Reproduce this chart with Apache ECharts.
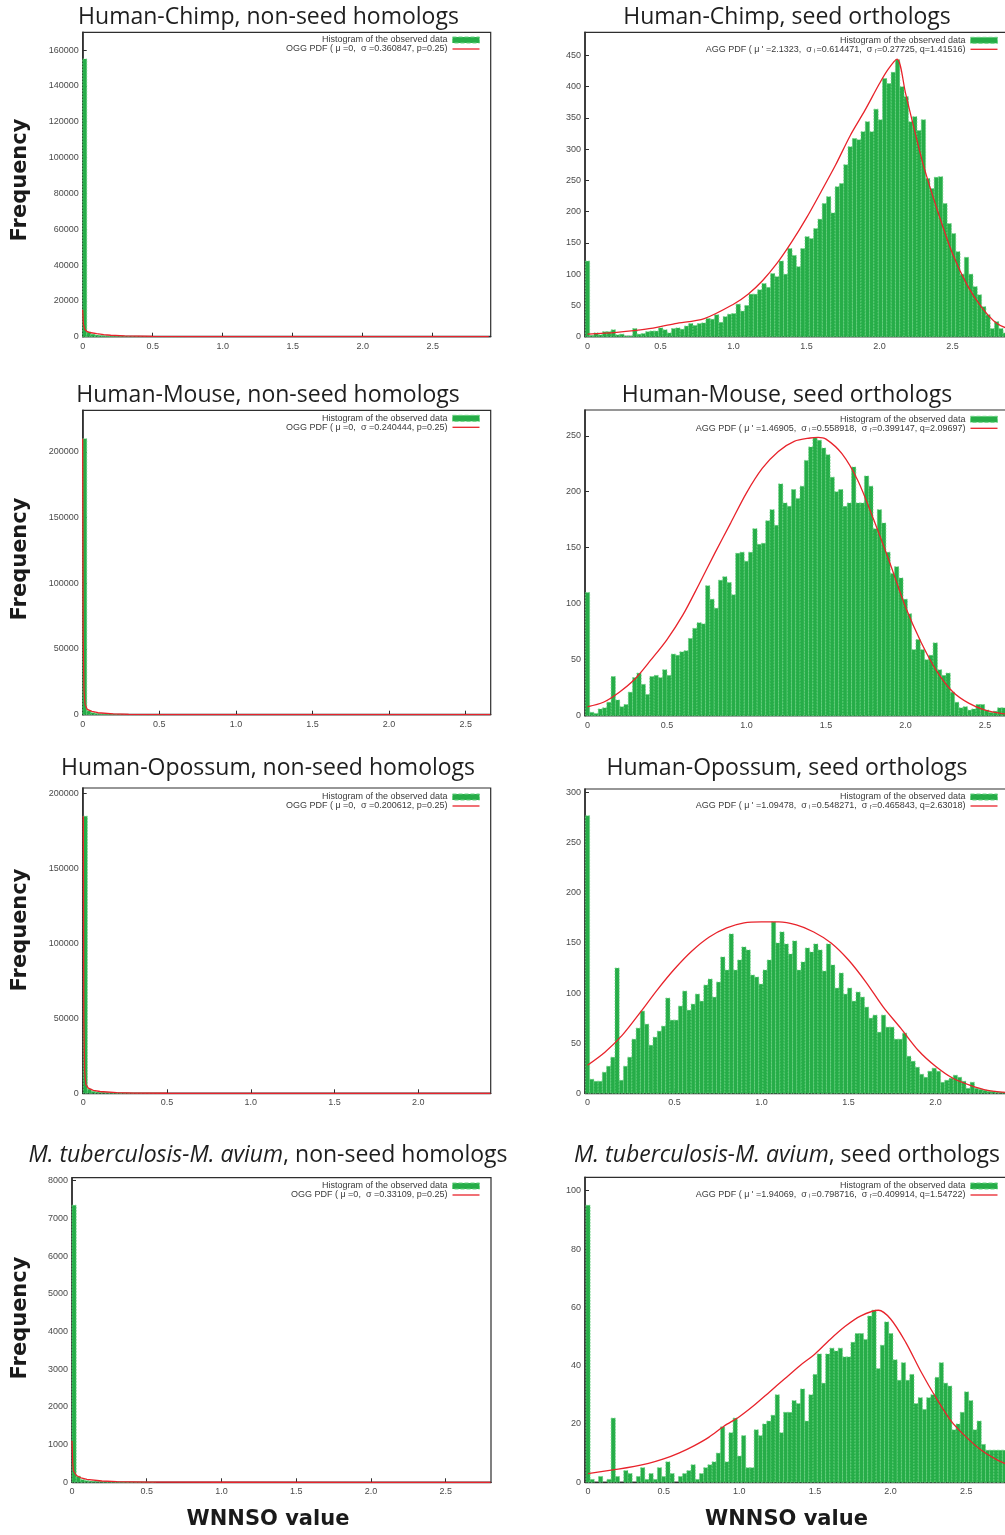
<!DOCTYPE html>
<html>
<head>
<meta charset="utf-8">
<script src="https://cdn.jsdelivr.net/npm/echarts@6/dist/echarts.min.js"></script>
<style>html,body{margin:0;padding:0;background:#fff}#c{width:1005px;height:1535px}</style>
</head>
<body>
<div id="c"></div>
<script>
// ================= DATA =================
const panelTitles = [
  'Human-Chimp, non-seed homologs', 'Human-Chimp, seed orthologs',
  'Human-Mouse, non-seed homologs', 'Human-Mouse, seed orthologs',
  'Human-Opossum, non-seed homologs', 'Human-Opossum, seed orthologs',
  '{i|M. tuberculosis-M. avium}, non-seed homologs', '{i|M. tuberculosis-M. avium}, seed orthologs'
];
const histName = 'Histogram of the observed data';
const pdfNames = [
  'OGG PDF ( μ =0,  σ =0.360847, p=0.25)',
  "AGG PDF ( μ ' =2.1323,  σ ₗ=0.614471,  σ ᵣ=0.27725, q=1.41516)",
  'OGG PDF ( μ =0,  σ =0.240444, p=0.25)',
  "AGG PDF ( μ ' =1.46905,  σ ₗ=0.558918,  σ ᵣ=0.399147, q=2.09697)",
  'OGG PDF ( μ =0,  σ =0.200612, p=0.25)',
  "AGG PDF ( μ ' =1.09478,  σ ₗ=0.548271,  σ ᵣ=0.465843, q=2.63018)",
  'OGG PDF ( μ =0,  σ =0.33109, p=0.25)',
  "AGG PDF ( μ ' =1.94069,  σ ₗ=0.798716,  σ ᵣ=0.409914, q=1.54722)"
];

// histogram bin widths (WNNSO units)
const binWidths = [0.0291, 0.0295, 0.0266, 0.027, 0.0243, 0.0243, 0.028, 0.0278];

// --- non-seed histograms (bins start at 0) ---
const chimpNonSeedCounts = [155000,2600,1400,900,650,500,400,330,280,240,200,170,150,130,110,100,90,80,70,60,50,45,40,35,30];
const mouseNonSeedCounts = [210000,3000,1500,900,600,450,350,280,220,180,150,120,100,80,70,60,50,40,30,25];
const opossumNonSeedCounts = [185000,2800,1300,800,550,400,300,240,190,150,120,100,80,65,50,40,30,25,20,15];
const tbNonSeedCounts = [7350,160,70,45,30,25,20,15,12,10,8,7,6,5,4,4,3,3,2,2];

// --- seed histograms (bins centred on multiples of the bin width) ---
const chimpSeedCounts = [121,2,6,3,8,8,11,3,4,1,
  1,13,4,5,8,9,9,14,11,6,
  13,14,12,17,21,18,21,22,29,28,
  35,23,32,36,37,52,41,50,68,68,
  75,85,79,101,96,121,100,141,130,112,
  141,160,157,173,188,213,224,198,240,245,
  275,304,317,315,328,344,328,364,347,413,
  405,423,443,400,384,344,352,330,347,253,
  237,255,256,213,181,165,136,100,127,100,
  80,67,48,35,13,24,13,6,8];
const mouseSeedCounts = [110,3,2,6,7,12,35,14,8,10,
  21,34,38,28,19,35,36,34,41,36,
  55,54,57,58,69,78,83,82,116,104,
  96,121,124,119,108,145,146,138,146,167,
  153,154,174,184,170,207,190,187,202,194,
  205,228,240,248,246,239,233,213,200,202,
  187,190,222,190,190,214,205,167,184,172,
  146,127,133,123,104,91,59,68,59,50,
  54,65,41,36,38,21,12,7,8,5,
  6,10,10,5,3,4,7,7];
const opossumSeedCounts = [277,14,12,12,21,27,36,125,13,27,
  36,54,65,82,69,48,56,62,67,95,
  73,73,87,102,83,89,99,92,108,114,
  96,111,136,123,159,123,133,146,143,118,
  116,109,123,133,171,150,161,149,139,152,
  123,131,145,141,149,143,122,149,128,105,
  120,99,105,92,101,96,86,75,78,61,
  78,66,66,54,54,60,37,32,26,19,
  16,22,25,22,11,13,15,18,16,12,
  5,11,5,4,3,2,2,1,1,1];
const tbSeedCounts = [95,1,0,2,0,1,22,2,0,4,
  3,0,2,5,1,3,1,5,2,7,
  3,0,2,3,4,6,1,3,5,6,
  7,10,19,7,17,22,9,16,5,5,
  18,16,20,21,23,30,17,24,24,28,
  27,32,21,30,37,44,34,44,46,45,
  46,43,43,48,51,51,49,57,59,39,
  47,55,51,42,35,41,35,37,27,29,
  25,29,30,36,41,34,33,18,20,24,
  31,28,18,21,13,11,11,11,11,11];

// --- fitted PDF curves ---
const chimpNonSeedPdfX = [0,0.005,0.015,0.033,0.06,0.1,0.15,0.2,0.3,0.5,0.8,1.2,2.0,2.9];
const chimpNonSeedPdfY = [15000,7000,4000,2800,2200,1700,1200,800,450,150,40,10,2,0];
const chimpSeedPdfX = [0,0.2,0.4,0.6,0.8,1.0,1.1,1.2,1.3,1.4,1.5,1.6,1.7,1.8,1.9,2.0,2.06,2.12,2.18,2.24,2.3,2.4,2.5,2.6,2.7,2.8,2.9];
const chimpSeedPdfY = [4,7,12,21,29,52,68,90,118,152,190,232,275,322,362,405,428,444,388,330,275,200,133,83,47,22,11];
const mouseNonSeedPdfX = [0,0.003,0.008,0.015,0.03,0.06,0.1,0.2,0.3,0.5,1.0,2.0,2.66];
const mouseNonSeedPdfY = [210000,60000,20000,8000,4000,2500,1500,600,250,60,5,1,0];
const mouseSeedPdfX = [0,0.1,0.2,0.3,0.4,0.5,0.6,0.7,0.8,0.9,1.0,1.1,1.2,1.3,1.4,1.45,1.5,1.6,1.7,1.8,1.9,2.0,2.1,2.2,2.3,2.4,2.5,2.6,2.7];
const mouseSeedPdfY = [8,12,21,33,50,68,90,117,145,172,199,221,236,245,248,248.5,247,234,210,175,137,97,65,39,21,11,5,2,1];
const opossumNonSeedPdfX = [0,0.003,0.008,0.015,0.03,0.06,0.1,0.2,0.3,0.5,1.0,2.0,2.43];
const opossumNonSeedPdfY = [185000,50000,15000,6000,3500,2000,1200,400,150,30,2,0,0];
const opossumSeedPdfX = [0,0.1,0.2,0.3,0.4,0.5,0.6,0.7,0.8,0.9,1.0,1.1,1.2,1.3,1.4,1.5,1.6,1.7,1.8,1.9,2.0,2.1,2.2,2.3,2.4];
const opossumSeedPdfY = [28,41,58,80,103,124,142,156,165,170,171,171,168,161,150,133,111,86,65,43,27,15,8,3,1];
const tbNonSeedPdfX = [0,0.005,0.01,0.03,0.06,0.1,0.2,0.3,0.5,1.0,2.0,2.8];
const tbNonSeedPdfY = [1100,500,300,180,120,80,35,18,6,1,0,0];
const tbSeedPdfX = [0,0.2,0.4,0.5,0.6,0.7,0.8,0.9,1.0,1.1,1.2,1.3,1.4,1.5,1.6,1.7,1.8,1.92,2.0,2.1,2.2,2.3,2.4,2.5,2.6,2.7,2.8];
const tbSeedPdfY = [3,4.5,6.5,8,10,12.5,15.5,19.3,22.5,26.5,31,35.5,40,44,49,53.5,57,59,56,48,38,29,21,15.5,11,7.8,5.5];

// --- tick values ---
const xTicksTo25 = [0,0.5,1,1.5,2,2.5];
const xTicksTo20 = [0,0.5,1,1.5,2];
const yTicksChimpNon = [0,20000,40000,60000,80000,100000,120000,140000,160000];
const yTicksChimpSeed = [0,50,100,150,200,250,300,350,400,450];
const yTicksMouseNon = [0,50000,100000,150000,200000];
const yTicksMouseSeed = [0,50,100,150,200,250];
const yTicksOpossumNon = [0,50000,100000,150000,200000];
const yTicksOpossumSeed = [0,50,100,150,200,250,300];
const yTicksTbNon = [0,1000,2000,3000,4000,5000,6000,7000,8000];
const yTicksTbSeed = [0,20,40,60,80,100];

// ================= LAYOUT / STYLE =================
const BAR_FILL = '#26ad48';
const BAR_EDGE = '#6bd483';
const PDF_COLOR = '#e8232b';
const AXIS_COLOR = '#2e2e2e';
const LABEL_FONT = 'Liberation Sans, Arial, sans-serif';

const panels = [
  {counts: chimpNonSeedCounts, centred: false, px: chimpNonSeedPdfX, py: chimpNonSeedPdfY, xt: xTicksTo25, yt: yTicksChimpNon,
   left: 82.7, top: 32.3, width: 408, height: 304.4, xmin: 0, xmax: 2.914, ymax: 169900, legTop: 35.5, legRight: 525},
  {counts: chimpSeedCounts, centred: true, px: chimpSeedPdfX, py: chimpSeedPdfY, xt: xTicksTo25, yt: yTicksChimpSeed,
   left: 585, top: 32.3, width: 425, height: 304.4, xmin: -0.0171, xmax: 2.894, ymax: 487, legTop: 35.8, legRight: 7},
  {counts: mouseNonSeedCounts, centred: false, px: mouseNonSeedPdfX, py: mouseNonSeedPdfY, xt: xTicksTo25, yt: yTicksMouseNon,
   left: 82.7, top: 410.3, width: 408, height: 304.4, xmin: 0, xmax: 2.663, ymax: 231700, legTop: 413.8, legRight: 525},
  {counts: mouseSeedCounts, centred: true, px: mouseSeedPdfX, py: mouseSeedPdfY, xt: xTicksTo25, yt: yTicksMouseSeed,
   left: 585, top: 410, width: 425, height: 305.7, xmin: -0.0157, xmax: 2.657, ymax: 273, legTop: 414.8, legRight: 7},
  {counts: opossumNonSeedCounts, centred: false, px: opossumNonSeedPdfX, py: opossumNonSeedPdfY, xt: xTicksTo20, yt: yTicksOpossumNon,
   left: 82.7, top: 788, width: 408, height: 305.3, xmin: -0.0036, xmax: 2.432, ymax: 203800, legTop: 792.5, legRight: 525},
  {counts: opossumSeedCounts, centred: true, px: opossumSeedPdfX, py: opossumSeedPdfY, xt: xTicksTo20, yt: yTicksOpossumSeed,
   left: 585, top: 789, width: 425, height: 304.3, xmin: -0.0144, xmax: 2.428, ymax: 303.7, legTop: 792.5, legRight: 7},
  {counts: tbNonSeedCounts, centred: false, px: tbNonSeedPdfX, py: tbNonSeedPdfY, xt: xTicksTo25, yt: yTicksTbNon,
   left: 72, top: 1177.7, width: 419, height: 304.6, xmin: 0, xmax: 2.803, ymax: 8080, legTop: 1181.5, legRight: 525},
  {counts: tbSeedCounts, centred: true, px: tbSeedPdfX, py: tbSeedPdfY, xt: xTicksTo25, yt: yTicksTbSeed,
   left: 585, top: 1177.3, width: 425, height: 305, xmin: -0.0198, xmax: 2.789, ymax: 104.6, legTop: 1181.5, legRight: 7}
];

const titlePos = [[268.5,17],[787,17],[268,395],[787,395],[268,768],[787,768],[268,1155.5],[787,1155]];
const freqPos = [[21,180],[21,559],[21,930],[21,1318]];
const wnnsoPos = [[268,1520],[786.5,1520]];

function renderBar(params, api) {
  const x0 = api.value(0), x1 = api.value(1), v = api.value(2);
  if (!(v > 0)) return;
  const a = api.coord([x0, 0]);
  const b = api.coord([x1, v]);
  const cs = params.coordSys;
  const shape = echarts.graphic.clipRectByRect(
    {x: a[0], y: b[1], width: b[0] - a[0], height: a[1] - b[1]},
    {x: cs.x, y: cs.y, width: cs.width, height: cs.height});
  if (!shape) return;
  return {type: 'rect', shape: shape,
    style: {fill: BAR_FILL, stroke: BAR_EDGE, lineWidth: 0.8, lineDash: [1.5, 1.5]}};
}

const grid = [], xAxis = [], yAxis = [], series = [], legend = [];
panels.forEach(function (p, i) {
  grid.push({left: p.left, top: p.top, width: p.width, height: p.height, show: true,
    borderColor: AXIS_COLOR, borderWidth: 1.2, containLabel: false, outerBoundsMode: 'none'});
  xAxis.push({gridIndex: i, type: 'value', min: p.xmin, max: p.xmax,
    axisLine: {show: true, onZero: false, lineStyle: {color: AXIS_COLOR, width: 1.4}},
    axisTick: {show: true, inside: true, length: 4, customValues: p.xt, lineStyle: {color: AXIS_COLOR}},
    axisLabel: {customValues: p.xt, margin: 5, fontSize: 9, color: '#4a4a4a', fontFamily: LABEL_FONT,
      formatter: function (v) { return v === 0 ? '0' : v.toFixed(1); }},
    splitLine: {show: false}});
  yAxis.push({gridIndex: i, type: 'value', min: 0, max: p.ymax,
    axisLine: {show: true, onZero: false, lineStyle: {color: AXIS_COLOR, width: 1.6}},
    axisTick: {show: true, inside: true, length: 4, customValues: p.yt, lineStyle: {color: AXIS_COLOR}},
    axisLabel: {customValues: p.yt, margin: 4, fontSize: 9, color: '#4a4a4a', fontFamily: LABEL_FONT,
      formatter: function (v) { return String(v); }},
    splitLine: {show: false}});
  const w = binWidths[i];
  const bars = p.counts.map(function (c, k) {
    const start = p.centred ? k * w - w / 2 : k * w;
    return [start, start + w, c];
  });
  series.push({type: 'custom', name: histName, xAxisIndex: i, yAxisIndex: i, renderItem: renderBar,
    data: bars, encode: {x: [0, 1], y: 2}, itemStyle: {color: BAR_FILL}, z: 2, silent: true});
  series.push({type: 'line', name: pdfNames[i], xAxisIndex: i, yAxisIndex: i,
    data: p.px.map(function (x, k) { return [x, p.py[k]]; }),
    symbol: 'none', showSymbol: false, smooth: p.centred ? 0.3 : false,
    lineStyle: {color: PDF_COLOR, width: 1.3}, itemStyle: {color: PDF_COLOR}, z: 3, clip: true, silent: true});
  legend.push({orient: 'vertical', align: 'right', right: p.legRight, top: p.legTop, padding: 0, itemGap: 0,
    itemWidth: 27, itemHeight: 6, selectedMode: false, symbolKeepAspect: true,
    textStyle: {fontSize: 9, lineHeight: 9, color: '#3a3a3a', fontFamily: LABEL_FONT},
    data: [{name: histName, icon: 'rect', itemStyle: {color: BAR_FILL, borderColor: BAR_EDGE, borderWidth: 1, borderType: 'dashed'}},
           {name: pdfNames[i], icon: 'path://M0,0H27V1.3H0Z', itemStyle: {color: PDF_COLOR, borderWidth: 0}}]});
});

const graphic = [];
panelTitles.forEach(function (t, i) {
  graphic.push({type: 'text', x: titlePos[i][0], y: titlePos[i][1], silent: true,
    style: {text: t, fill: '#1e1e1e', font: '23px "Open Sans", "Noto Sans", sans-serif',
      textAlign: 'center', textVerticalAlign: 'middle', align: 'center', verticalAlign: 'middle',
      rich: {i: {fontStyle: 'italic', fontSize: 23, fontFamily: '"Open Sans", "Noto Sans", sans-serif', fill: '#1e1e1e'}}}});
});
freqPos.forEach(function (pos) {
  graphic.push({type: 'text', x: pos[0], y: pos[1], rotation: Math.PI / 2, silent: true,
    style: {text: 'Frequency', fill: '#1a1a1a', font: 'bold 21px "DejaVu Sans", sans-serif',
      textAlign: 'center', textVerticalAlign: 'middle', align: 'center', verticalAlign: 'middle'}});
});
wnnsoPos.forEach(function (pos) {
  graphic.push({type: 'text', x: pos[0], y: pos[1], silent: true,
    style: {text: 'WNNSO value', fill: '#1a1a1a', font: 'bold 21px "DejaVu Sans", sans-serif',
      textAlign: 'center', textVerticalAlign: 'middle', align: 'center', verticalAlign: 'middle'}});
});

const chart = echarts.init(document.getElementById('c'), null, {renderer: 'canvas', width: 1005, height: 1535});
chart.setOption({
  animation: false,
  backgroundColor: '#ffffff',
  grid: grid, xAxis: xAxis, yAxis: yAxis, series: series, legend: legend, graphic: graphic
});
</script>
</body>
</html>
